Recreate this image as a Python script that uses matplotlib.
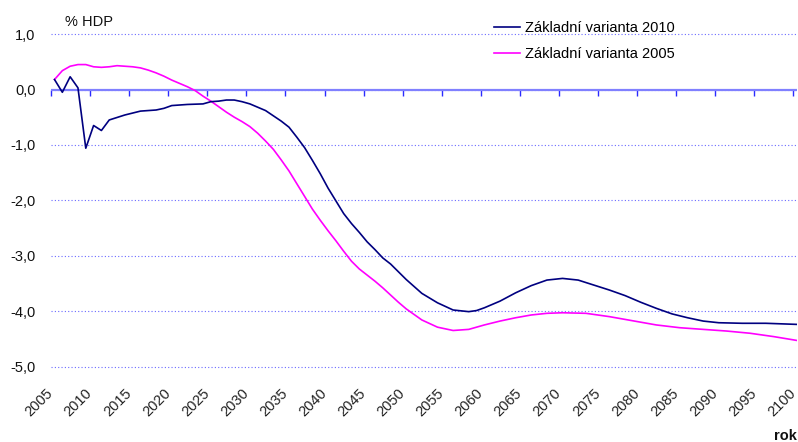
import matplotlib
matplotlib.use("Agg")
import matplotlib.pyplot as plt
from matplotlib.ticker import FuncFormatter

plt.rcParams['font.family'] = ['Liberation Sans', 'DejaVu Sans']

# ---------------- data ----------------
years_2010 = [2005, 2006, 2007, 2008, 2009, 2010, 2011, 2012, 2014, 2016, 2018, 2019,
              2020, 2022, 2024, 2025, 2026, 2027, 2028, 2029, 2030, 2032, 2034, 2035,
              2036, 2037, 2038, 2039, 2040, 2041, 2042, 2043, 2044, 2045, 2046, 2047,
              2048, 2049, 2050, 2052, 2054, 2056, 2058, 2059, 2060, 2062, 2064, 2066,
              2068, 2070, 2072, 2074, 2076, 2078, 2080, 2082, 2084, 2086, 2088, 2090,
              2093, 2096, 2098, 2100]
values_2010 = [0.18, -0.05, 0.23, 0.03, -1.06, -0.65, -0.74, -0.55, -0.46, -0.39, -0.37, -0.34,
               -0.29, -0.27, -0.26, -0.22, -0.21, -0.19, -0.19, -0.22, -0.26, -0.38, -0.57, -0.68,
               -0.86, -1.05, -1.28, -1.52, -1.78, -2.01, -2.24, -2.42, -2.58, -2.75, -2.89, -3.04,
               -3.15, -3.29, -3.43, -3.68, -3.85, -3.98, -4.01, -3.99, -3.94, -3.82, -3.67, -3.54,
               -3.44, -3.41, -3.44, -3.53, -3.62, -3.72, -3.84, -3.95, -4.05, -4.12, -4.18, -4.21,
               -4.22, -4.22, -4.23, -4.24]

years_2005 = [2005, 2006, 2007, 2008, 2009, 2010, 2011, 2012, 2013, 2014, 2015, 2016,
              2017, 2018, 2019, 2020, 2021, 2022, 2023, 2024, 2025, 2026, 2027, 2028,
              2029, 2030, 2031, 2032, 2033, 2034, 2035, 2036, 2037, 2038, 2039, 2040,
              2041, 2042, 2043, 2044, 2045, 2046, 2047, 2048, 2049, 2050, 2052, 2054,
              2056, 2058, 2060, 2062, 2064, 2066, 2068, 2070, 2073, 2076, 2078, 2080,
              2082, 2085, 2088, 2091, 2094, 2097, 2100]
values_2005 = [0.18, 0.34, 0.42, 0.45, 0.45, 0.41, 0.40, 0.41, 0.43, 0.42, 0.41, 0.39,
               0.35, 0.30, 0.24, 0.17, 0.11, 0.05, -0.02, -0.12, -0.21, -0.31, -0.41, -0.50,
               -0.58, -0.67, -0.79, -0.93, -1.08, -1.27, -1.47, -1.70, -1.93, -2.16, -2.36, -2.55,
               -2.73, -2.92, -3.10, -3.24, -3.35, -3.46, -3.58, -3.71, -3.84, -3.96, -4.16, -4.29,
               -4.35, -4.33, -4.25, -4.18, -4.12, -4.07, -4.04, -4.03, -4.04, -4.10, -4.15, -4.20,
               -4.25, -4.30, -4.33, -4.36, -4.40, -4.46, -4.53]

series_labels = ["Základní varianta 2010", "Základní varianta 2005"]
tick_years = list(range(2005, 2101, 5))
y_ticks = [1, 0, -1, -2, -3, -4, -5]

# ---------------- layout ----------------
W, H = 798, 442
fig = plt.figure(figsize=(W / 100, H / 100), dpi=100)

ylo, yhi = -5.05, 1.05
zero_px, unit_px = 89.5, 55.4
top_px = zero_px - unit_px * yhi
bot_px = zero_px - unit_px * ylo
x0_px, x1_px = 51, 797
ax = fig.add_axes([x0_px / W, 1 - bot_px / H, (x1_px - x0_px) / W, (bot_px - top_px) / H])
ax.set_xlim(2004.55, 2100)
ax.set_ylim(ylo, yhi)

for s in ax.spines.values():
    s.set_visible(False)

# gridlines
ax.set_yticks(y_ticks)
ax.yaxis.set_major_formatter(FuncFormatter(lambda v, p: f"{v:.1f}".replace('.', ',')))
ax.grid(axis='y', linestyle=(0, (1, 2)), color='#6a6aff', linewidth=0.8)
ax.grid(axis='x', visible=False)
ax.tick_params(axis='y', length=0, pad=11, labelsize=10.5, labelcolor='#111111')

# x labels at bottom
tick_pos = [t - 0.45 for t in tick_years]
ax.set_xticks(tick_pos)
ax.set_xticklabels([str(t) for t in tick_years], rotation=45, ha='right',
                   va='center', rotation_mode='anchor', fontsize=10.5, color='#222222')
ax.tick_params(axis='x', length=0, pad=15.5)

# zero axis line with ticks
ax.axhline(0, color='#8080ff', linewidth=1.6, zorder=2)
sec = ax.secondary_xaxis((0 - ylo) / (yhi - ylo))
sec.set_alignment('bottom')
sec.set_xticks(tick_pos)
sec.tick_params(axis='x', length=4, width=1, color='#2a2aff', labelbottom=False, labeltop=False,
                direction='out')
sec.spines['bottom'].set_visible(False)

# lines
l1, = ax.plot(years_2010, values_2010, color='#000080', linewidth=1.2, zorder=4)
l2, = ax.plot(years_2005, values_2005, color='#ff00ff', linewidth=1.2, zorder=3)

ax.legend([l1, l2], series_labels, loc='upper left', bbox_to_anchor=(494 / W, 1 - 21 / H),
          bbox_transform=fig.transFigure, frameon=False, handlelength=1.8,
          handletextpad=0.3, borderpad=0, borderaxespad=0, labelspacing=0.85,
          fontsize=10.5)

fig.text(65 / W, 1 - 26 / H, '% HDP', fontsize=10.5, va='baseline', color='#111111')
fig.text(797 / W, 1 - 440 / H, 'rok', fontsize=10.5, va='baseline', ha='right',
         weight='bold', color='#111111')

fig.savefig('out.png', dpi=100)
